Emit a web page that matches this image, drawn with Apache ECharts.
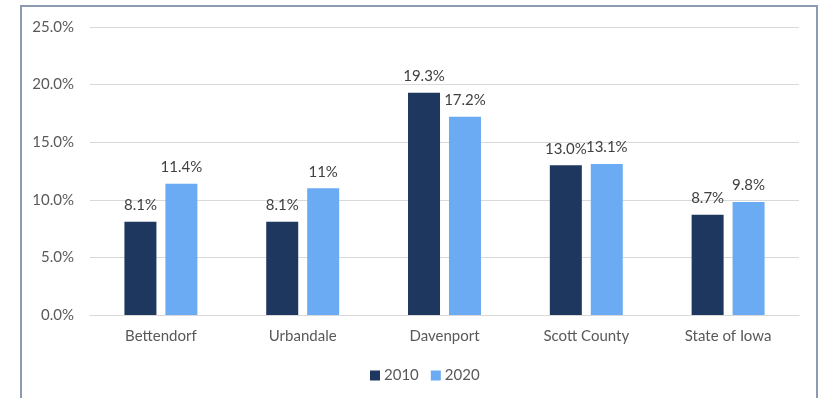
<!DOCTYPE html>
<html>
<head>
<meta charset="utf-8">
<script src="https://cdn.jsdelivr.net/npm/echarts@6/dist/echarts.min.js"></script>
<style>
  html, body { margin: 0; padding: 0; background: #fff; }
  #chart { width: 823px; height: 398px; }
</style>
</head>
<body>
<div id="chart"></div>
<script>
// Places compared
const categories = ['Bettendorf', 'Urbandale', 'Davenport', 'Scott County', 'State of Iowa'];
// Percentages by year
const values2010 = [8.1, 8.1, 19.3, 13.0, 8.7];
const values2020 = [11.4, 11, 17.2, 13.1, 9.8];
// Label text shown above each bar
const labels2010 = ['8.1%', '8.1%', '19.3%', '13.0%', '8.7%'];
const labels2020 = ['11.4%', '11%', '17.2%', '13.1%', '9.8%'];
const seriesNames = ['2010', '2020'];
const yTicks = { min: 0, max: 25, interval: 5 };

const FONT = 'Lato, "Open Sans", sans-serif';
const FS = 15;
const chart = echarts.init(document.getElementById('chart'), null, { renderer: 'canvas' });

function barLabel(texts) {
  return {
    show: true,
    position: 'top',
    distance: 9,
    color: '#404040',
    fontSize: FS,
    fontFamily: FONT,
    formatter: p => texts[p.dataIndex]
  };
}

chart.setOption({
  animation: false,
  grid: { left: 90, right: 24, top: 27, bottom: 83 },
  graphic: [{
    type: 'rect',
    shape: { x: 21, y: 6, width: 796, height: 400 },
    style: { fill: 'none', stroke: '#8d9bb0', lineWidth: 2 },
    silent: true
  }],
  legend: {
    data: seriesNames,
    top: 368,
    left: 370,
    padding: 0,
    itemWidth: 10,
    itemHeight: 10,
    itemGap: 12,
    icon: 'rect',
    textStyle: { color: '#595959', fontSize: FS, fontFamily: FONT, padding: [0, 0, 0, -1] }
  },
  xAxis: {
    type: 'category',
    data: categories,
    axisLine: { show: true, lineStyle: { color: '#d9d9d9', width: 1 } },
    axisTick: { show: false },
    axisLabel: { color: '#595959', fontSize: FS, fontFamily: FONT, margin: 14 }
  },
  yAxis: {
    type: 'value',
    min: yTicks.min,
    max: yTicks.max,
    interval: yTicks.interval,
    axisLine: { show: false },
    axisTick: { show: false },
    splitLine: { lineStyle: { color: '#d9d9d9', width: 1 } },
    axisLabel: {
      color: '#595959', fontSize: FS, fontFamily: FONT, margin: 16,
      formatter: v => v.toFixed(1) + '%'
    }
  },
  series: [
    {
      name: seriesNames[0],
      type: 'bar',
      data: values2010,
      barWidth: 32,
      barGap: '28%',
      itemStyle: { color: '#1d375f' },
      label: barLabel(labels2010)
    },
    {
      name: seriesNames[1],
      type: 'bar',
      data: values2020,
      barWidth: 32,
      itemStyle: { color: '#6aabf3' },
      label: barLabel(labels2020)
    }
  ]
});
</script>
</body>
</html>
